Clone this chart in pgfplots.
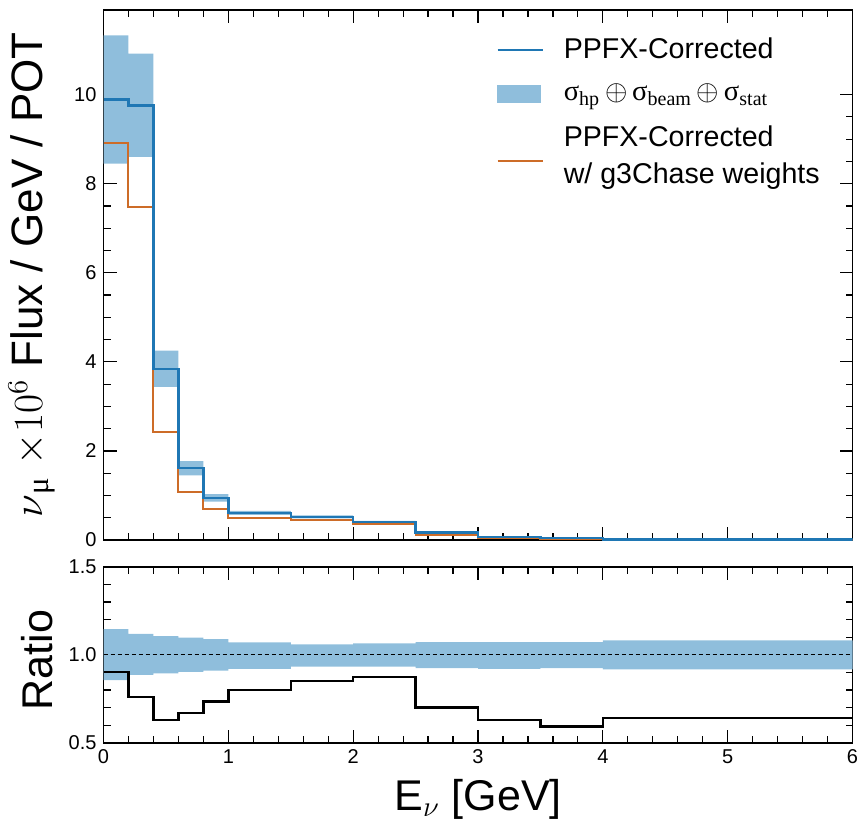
\documentclass[border=0pt]{standalone}
\usepackage{pgfplots}
\pgfplotsset{compat=1.18}
\usepgfplotslibrary{fillbetween}
\usepackage{fontspec}
\setmainfont{Liberation Sans}
\newfontfamily\serif{Liberation Serif}
\definecolor{pblue}{RGB}{31,119,180}
\definecolor{porange}{RGB}{205,108,40}
\definecolor{bandc}{RGB}{143,190,220}
\begin{document}
\begin{tikzpicture}
\pgfplotsset{
  common/.style={
    scale only axis, width=374.5pt, xmin=0, xmax=6,
    tick align=inside, xtick pos=both, ytick pos=both,
    xticklabel pos=lower, yticklabel pos=left,
    major tick length=6.5pt, minor tick length=3.5pt,
    xtick={0,1,2,3,4,5,6}, minor x tick num=4,
    every tick/.style={black, line width=0.6pt},
    axis line style={line width=0.8pt},
    tick label style={font=\fontsize{10}{12}\selectfont},
    /pgf/number format/assume math mode=true,
    label style={font=\fontsize{21.5}{24}\selectfont},
  }
}
\begin{axis}[common, at={(51.75pt,140pt)}, anchor=south west, height=265pt,
  ymin=0, ymax=11.9, ytick={0,2,4,6,8,10}, minor y tick num=3,
  xticklabels={},
  ylabel={$\nu$\textsubscript{\serif μ} $\times10^{6}$ Flux / GeV / POT},
  ylabel style={at={(rel axis cs:-0.082,0.5)}, anchor=base, font=\fontsize{22}{24}\selectfont},
  legend style={draw=none, fill=none, at={(rel axis cs:0.524,0.955)}, anchor=north west,
    inner sep=0pt, font=\fontsize{14.3}{18.5}\selectfont, row sep=7pt,
    cells={align=left}, /tikz/every odd column/.append style={column sep=8pt}},
  legend cell align=left]
\addlegendimage{legend image code/.code={\draw[pblue, line width=1.2pt] (0pt,0pt) -- (22.5pt,0pt);}}
\addlegendentry{PPFX-Corrected}
\addlegendimage{legend image code/.code={\fill[bandc] (0pt,-4.3pt) rectangle (21.5pt,4.3pt);}}
\addlegendentry{{\serif σ\textsubscript{hp}}$\,\oplus\,${\serif σ\textsubscript{beam}}$\,\oplus\,${\serif σ\textsubscript{stat}}}
\addlegendimage{legend image code/.code={\draw[porange, line width=1.0pt] (0pt,-2.5pt) -- (22.5pt,-2.5pt);}}
\addlegendentry{PPFX-Corrected\\w/ g3Chase weights}
\addplot[const plot, draw=none, name path=up, forget plot] coordinates {
(0,11.33) (0.2,10.92) (0.4,4.25) (0.6,1.77) (0.8,1.03) (1.0,0.655) (1.5,0.552) (2.0,0.427) (2.5,0.183) (3.0,0.073) (3.5,0.043) (4.0,0.016) (6.0,0.016)};
\addplot[const plot, draw=none, name path=lo, forget plot] coordinates {
(0,8.45) (0.2,8.60) (0.4,3.44) (0.6,1.45) (0.8,0.86) (1.0,0.565) (1.5,0.485) (2.0,0.373) (2.5,0.157) (3.0,0.063) (3.5,0.037) (4.0,0.014) (6.0,0.014)};
\addplot[bandc, forget plot] fill between[of=up and lo];
\addplot[const plot, porange, line width=1.0pt, forget plot] coordinates {
(0,8.91) (0.2,7.47) (0.4,2.43) (0.6,1.08) (0.8,0.69) (1.0,0.49) (1.5,0.445) (2.0,0.35) (2.5,0.12) (3.0,0.043) (3.5,0.024) (4.0,0.010) (6.0,0.010)};
\addplot[const plot, pblue, line width=1.2pt, forget plot] coordinates {
(0,9.89) (0.2,9.76) (0.4,3.84) (0.6,1.61) (0.8,0.94) (1.0,0.61) (1.5,0.52) (2.0,0.40) (2.5,0.17) (3.0,0.068) (3.5,0.040) (4.0,0.015) (6.0,0.015)};
\end{axis}
\begin{axis}[common, at={(51.75pt,38.65pt)}, anchor=south west, height=88pt,
  ymin=0.5, ymax=1.5, ytick={0.5,1.0,1.5}, minor y tick num=4,
  yticklabel style={/pgf/number format/.cd, fixed, fixed zerofill, precision=1},
  xlabel={E\textsubscript{$\nu$} [GeV]},
  xlabel style={at={(rel axis cs:0.5,-0.386)}, anchor=base},
  ylabel={Ratio},
  ylabel style={at={(rel axis cs:-0.0678,0.47)}, anchor=base}]
\addplot[const plot, draw=none, name path=rup] coordinates {
(0,1.146) (0.2,1.118) (0.4,1.105) (0.6,1.097) (0.8,1.089) (1.0,1.070) (1.5,1.059) (2.0,1.065) (2.5,1.072) (3.0,1.072) (3.5,1.072) (4.0,1.082) (6.0,1.082)};
\addplot[const plot, draw=none, name path=rlo] coordinates {
(0,0.856) (0.2,0.885) (0.4,0.894) (0.6,0.902) (0.8,0.909) (1.0,0.920) (1.5,0.932) (2.0,0.932) (2.5,0.924) (3.0,0.920) (3.5,0.924) (4.0,0.917) (6.0,0.917)};
\addplot[bandc] fill between[of=rup and rlo];
\addplot[black, line width=0.6pt, dash pattern=on 2pt off 1.5pt] coordinates {(0,1) (6,1)};
\addplot[const plot, black, line width=1.2pt] coordinates {
(0,0.902) (0.2,0.761) (0.4,0.629) (0.6,0.669) (0.8,0.733) (1.0,0.800) (1.5,0.852) (2.0,0.875) (2.5,0.699) (3.0,0.629) (3.5,0.591) (4.0,0.642) (6.0,0.642)};
\end{axis}
\pgfresetboundingbox
\path[use as bounding box] (0,0) rectangle (430pt,410pt);
\end{tikzpicture}
\end{document}
